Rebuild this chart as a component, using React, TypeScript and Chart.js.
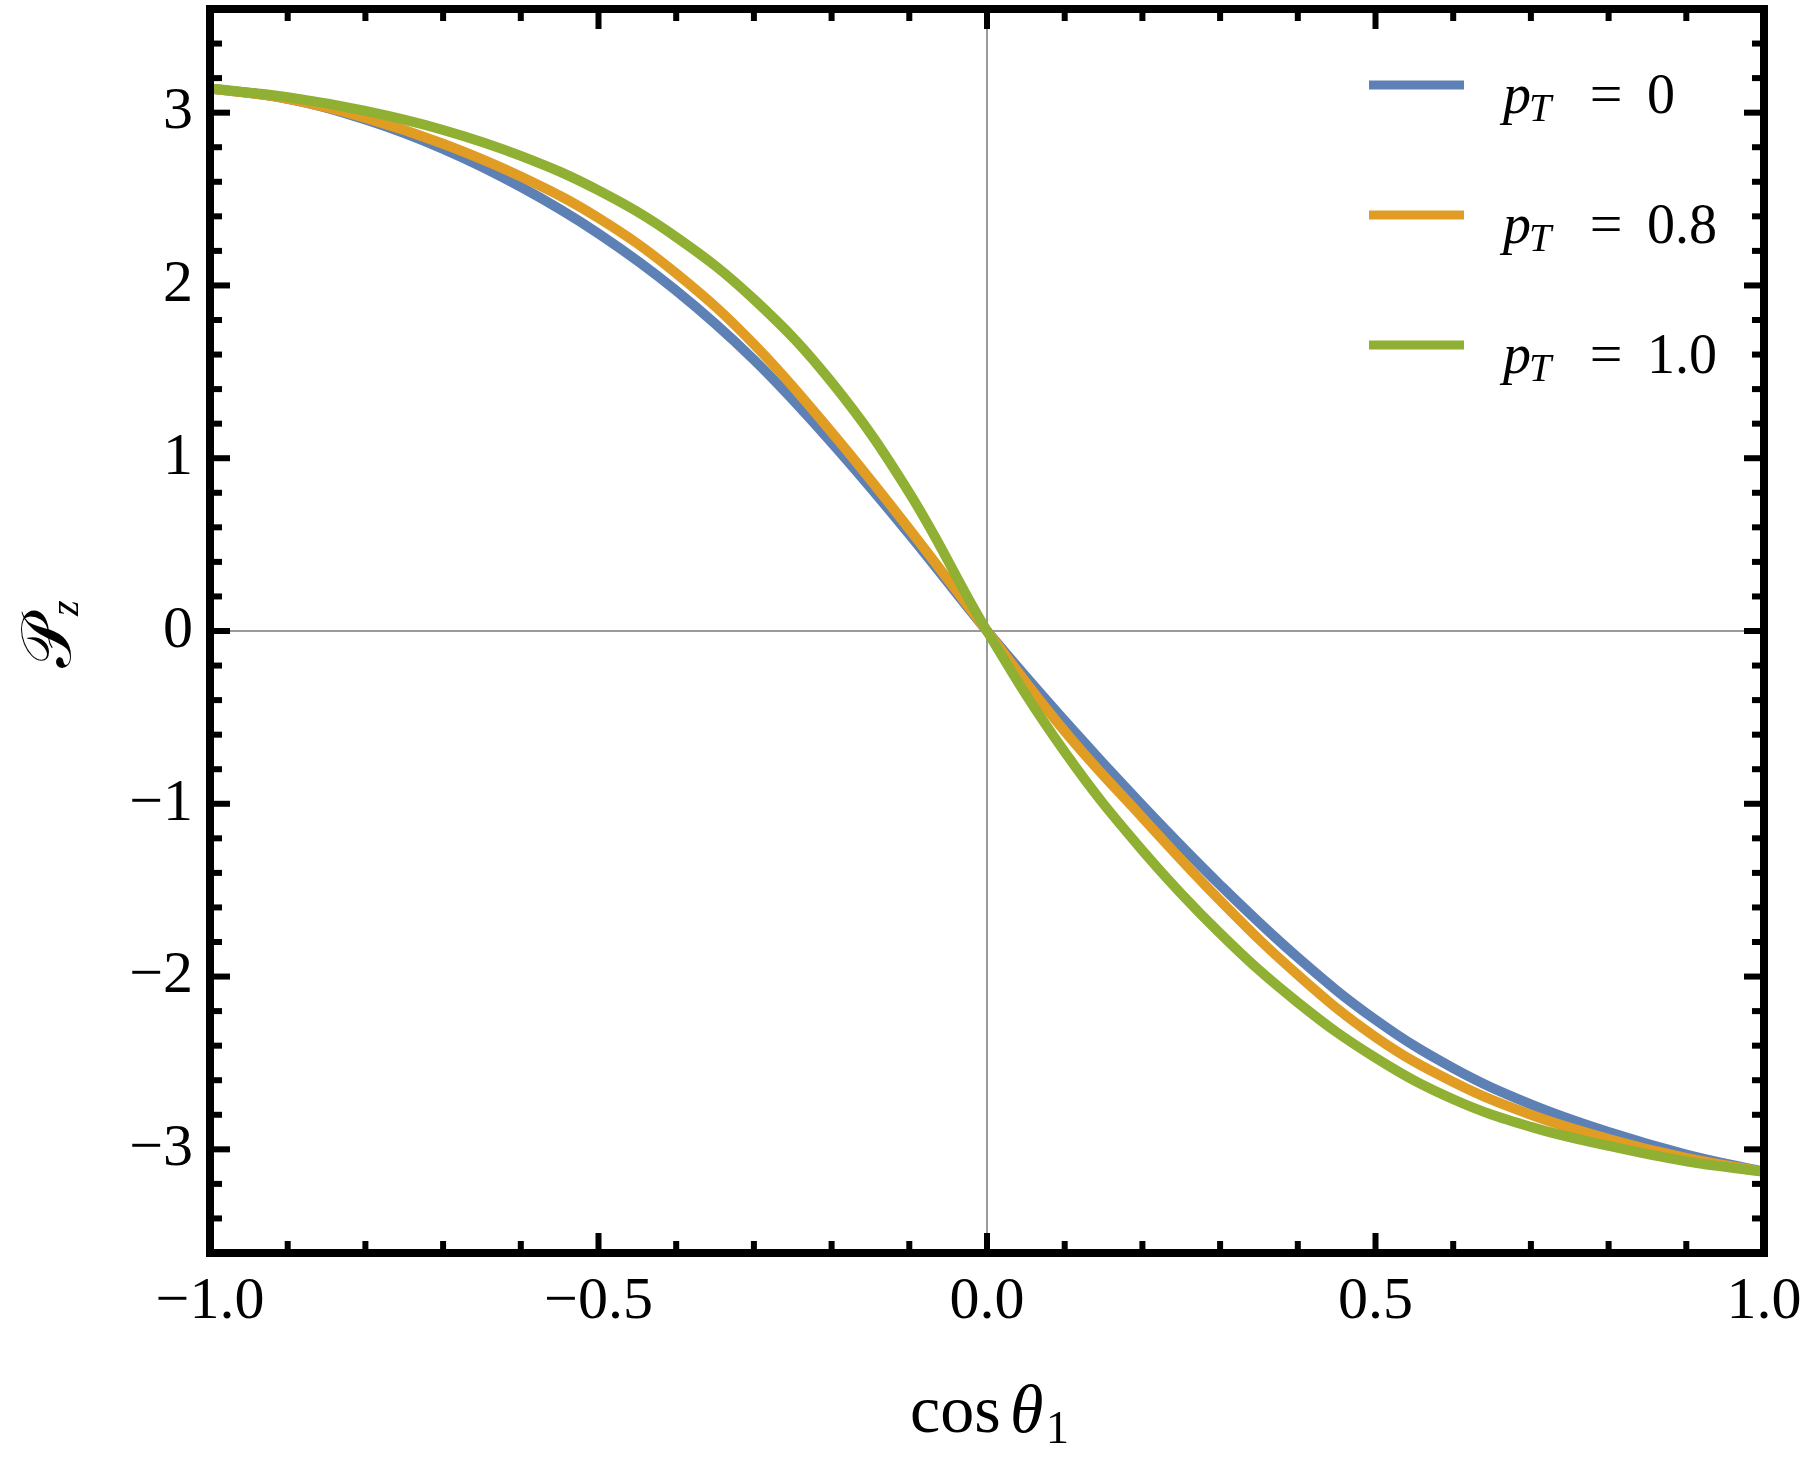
import { useEffect, useRef } from 'react';
import { Chart, registerables } from 'chart.js';

Chart.register(...registerables);

// cos(theta_1) sample points
const cosTheta = [-1, -0.9, -0.8, -0.7, -0.6, -0.5, -0.4, -0.3, -0.2, -0.1, 0, 0.1, 0.2, 0.3, 0.4, 0.5, 0.6, 0.7, 0.8, 0.9, 1];

// P_z for the three p_T values
const pzPt0 = [3.14, 3.08, 2.96, 2.79, 2.57, 2.3, 1.97, 1.57, 1.09, 0.56, 0, -0.52, -1.01, -1.47, -1.89, -2.25, -2.53, -2.74, -2.9, -3.03, -3.13];
const pzPt08 = [3.14, 3.08, 2.97, 2.82, 2.63, 2.39, 2.07, 1.66, 1.15, 0.59, 0, -0.58, -1.08, -1.56, -1.99, -2.35, -2.61, -2.8, -2.94, -3.05, -3.13];
const pzPt10 = [3.14, 3.09, 3.01, 2.9, 2.75, 2.55, 2.28, 1.92, 1.44, 0.8, 0, -0.7, -1.27, -1.75, -2.15, -2.47, -2.71, -2.87, -2.98, -3.07, -3.13];

const ptLabels = ['0', '0.8', '1.0'];
const lineColors = ['#5E81B5', '#E19C24', '#8FB032'];

const xTicks = [-1, -0.5, 0, 0.5, 1];
const yTicks = [-3, -2, -1, 0, 1, 2, 3];

const SERIF = '"Liberation Serif", "Times New Roman", serif';

const fmt = (v: number, digits: number) =>
  (v < -1e-9 ? '\u2212' : '') + Math.abs(v).toFixed(digits);

const framePlugin = {
  id: 'mmaFrame',
  beforeDatasetsDraw(chart: any) {
    const { ctx, chartArea: a, scales } = chart;
    const x0 = scales.x.getPixelForValue(0);
    const y0 = scales.y.getPixelForValue(0);
    ctx.save();
    ctx.strokeStyle = '#7a7a7a';
    ctx.lineWidth = 1.5;
    ctx.beginPath();
    ctx.moveTo(a.left, y0);
    ctx.lineTo(a.right, y0);
    ctx.moveTo(x0, a.top);
    ctx.lineTo(x0, a.bottom);
    ctx.stroke();
    ctx.restore();
  },
  afterDatasetsDraw(chart: any) {
    const { ctx, chartArea: a, scales } = chart;
    ctx.save();
    ctx.fillStyle = '#000';
    // ticks, inward on all four sides
    for (let i = -9; i <= 9; i++) {
      const px = scales.x.getPixelForValue(i / 10);
      const len = i % 5 === 0 ? 20 : 12;
      ctx.fillRect(px - 3, a.bottom - len, 6, len);
      ctx.fillRect(px - 3, a.top, 6, len);
    }
    for (let i = -17; i <= 17; i++) {
      const py = scales.y.getPixelForValue(i / 5);
      const len = i % 5 === 0 ? 20 : 12;
      ctx.fillRect(a.left, py - 3, len, 6);
      ctx.fillRect(a.right - len, py - 3, len, 6);
    }
    ctx.strokeStyle = '#000';
    ctx.lineWidth = 8;
    ctx.strokeRect(a.left, a.top, a.right - a.left, a.bottom - a.top);
    ctx.restore();
  },
  afterDraw(chart: any) {
    const { ctx } = chart;
    ctx.save();
    ctx.fillStyle = '#000';
    ctx.textBaseline = 'alphabetic';

    // legend
    const legendY = [85, 215, 345];
    chart.data.datasets.forEach((ds: any, i: number) => {
      const ly = legendY[i];
      ctx.strokeStyle = ds.borderColor;
      ctx.lineWidth = 9;
      ctx.beginPath();
      ctx.moveTo(1369, ly);
      ctx.lineTo(1464, ly);
      ctx.stroke();
      const base = ly + 28;
      ctx.textAlign = 'left';
      ctx.font = `italic 56px ${SERIF}`;
      ctx.fillText('p', 1503, base);
      ctx.font = `italic 40px ${SERIF}`;
      ctx.fillText('T', 1529, base + 8);
      ctx.font = `58px ${SERIF}`;
      ctx.textAlign = 'center';
      ctx.fillText('=', 1606, base);
      ctx.textAlign = 'left';
      ctx.font = `56px ${SERIF}`;
      ctx.fillText(ptLabels[i], 1647, base);
    });

    // x axis title: cos θ1
    ctx.textAlign = 'left';
    ctx.font = `68px ${SERIF}`;
    ctx.fillText('cos', 910, 1432);
    ctx.font = `italic 68px ${SERIF}`;
    ctx.fillText('\u03B8', 1010, 1432);
    ctx.font = `46px ${SERIF}`;
    ctx.fillText('1', 1046, 1443);

    // y axis title: P_z (script), rotated
    ctx.translate(70, 668);
    ctx.rotate(-Math.PI / 2);
    ctx.font = `70px "DejaVu Serif", "DejaVu Sans", ${SERIF}`;
    ctx.fillText('\uD835\uDCAB', 0, 0);
    ctx.font = `italic 40px ${SERIF}`;
    ctx.fillText('z', 52, 8);
    ctx.restore();
  }
};

export default function App() {
  const canvasRef = useRef<HTMLCanvasElement>(null);
  const chartRef = useRef<Chart | null>(null);

  useEffect(() => {
    if (!canvasRef.current) return;
    const series = [pzPt0, pzPt08, pzPt10];

    const config: any = {
      type: 'line',
      data: {
        datasets: series.map((vals, i) => ({
          label: `p_T = ${ptLabels[i]}`,
          data: cosTheta.map((c, k) => ({ x: c, y: vals[k] })),
          borderColor: lineColors[i],
          borderWidth: 10,
          pointRadius: 0,
          fill: false,
          tension: 0.4,
          order: 3 - i
        }))
      },
      options: {
        responsive: true,
        maintainAspectRatio: false,
        animation: false,
        devicePixelRatio: 1,
        layout: { padding: { top: 9, right: 36, left: 0, bottom: 0 } },
        plugins: {
          legend: { display: false },
          tooltip: { enabled: false }
        },
        scales: {
          x: {
            type: 'linear',
            min: -1,
            max: 1,
            grid: { display: false, drawTicks: false },
            border: { display: false },
            afterBuildTicks: (s: any) => { s.ticks = xTicks.map(value => ({ value })); },
            afterFit: (s: any) => {
              s.height = 212;
              s.paddingLeft = 0;
              s.paddingRight = 0;
            },
            ticks: {
              padding: 13,
              color: '#000',
              maxRotation: 0,
              autoSkip: false,
              font: { family: SERIF, size: 60 },
              callback: (v: any) => fmt(Number(v), 1)
            }
          },
          y: {
            type: 'linear',
            min: -3.6,
            max: 3.6,
            grid: { display: false, drawTicks: false },
            border: { display: false },
            afterBuildTicks: (s: any) => { s.ticks = yTicks.map(value => ({ value })); },
            afterFit: (s: any) => {
              s.width = 210;
              s.paddingTop = 0;
              s.paddingBottom = 0;
            },
            ticks: {
              padding: 17,
              color: '#000',
              autoSkip: false,
              font: { family: SERIF, size: 60 },
              callback: (v: any) => fmt(Number(v), 0)
            }
          }
        }
      },
      plugins: [framePlugin]
    };

    if (chartRef.current) chartRef.current.destroy();
    chartRef.current = new Chart(canvasRef.current, config);

    return () => {
      chartRef.current?.destroy();
      chartRef.current = null;
    };
  }, []);

  return (
    <div style={{ position: 'absolute', left: 0, top: 0, width: 1800, height: 1465, background: '#fff' }}>
      <canvas ref={canvasRef} />
    </div>
  );
}
